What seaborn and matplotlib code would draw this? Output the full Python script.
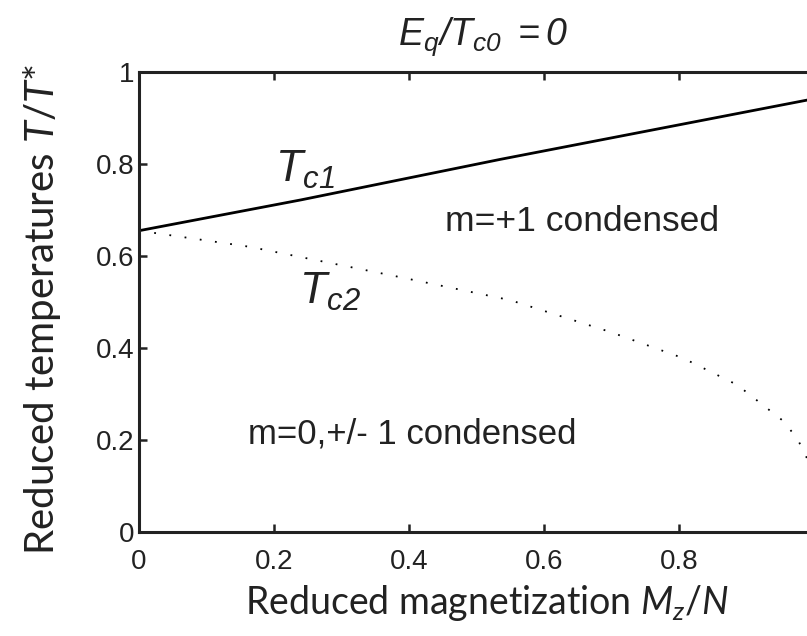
import numpy as np
import pandas as pd
import matplotlib
matplotlib.use("Agg")
import matplotlib.pyplot as plt
import seaborn as sns

# values
mz_tc1 = [0.0, 0.24, 0.535, 0.99, 1.0]
t_tc1 = [0.655, 0.722, 0.81, 0.939, 0.942]

mz_tc2 = [0.0, 0.164, 0.313, 0.387, 0.55, 0.698, 0.806, 0.886, 0.953, 0.975, 0.99, 1.0]
t_tc2 = [0.655, 0.62, 0.576, 0.554, 0.504, 0.435, 0.378, 0.32, 0.243, 0.204, 0.159, 0.13]

x_ticks = [0, 0.2, 0.4, 0.6, 0.8, 1.0]
x_labels = ['0', '0.2', '0.4', '0.6', '0.8', '']   # "1" falls off the cropped edge
y_ticks = [0, 0.2, 0.4, 0.6, 0.8, 1.0]
y_labels = ['0', '0.2', '0.4', '0.6', '0.8', '1']

sns.set_style("ticks")
plt.rcParams['font.family'] = ['Liberation Sans', 'DejaVu Sans']
plt.rcParams['mathtext.fontset'] = 'custom'
plt.rcParams['mathtext.it'] = 'Lato:italic'
plt.rcParams['mathtext.rm'] = 'Lato'
plt.rcParams['mathtext.sf'] = 'Liberation Sans:italic'

fig = plt.figure(figsize=(8.07, 6.36), dpi=100)
# axes box runs a little past the right edge, as in the cropped original
ax = fig.add_axes([139 / 807, 104 / 636, 675 / 807, 460 / 636])

df1 = pd.DataFrame({'Mz': mz_tc1, 'T': t_tc1})
df2 = pd.DataFrame({'Mz': mz_tc2, 'T': t_tc2})
sns.lineplot(data=df1, x='Mz', y='T', ax=ax, color='black', linewidth=2, sort=False)
sns.lineplot(data=df2, x='Mz', y='T', ax=ax, color='black', linewidth=1.3,
             linestyle=(0, (1, 7.5)), sort=False)

ax.set_xlim(0, 1)
ax.set_ylim(0, 1)
ax.set_xticks(x_ticks)
ax.set_yticks(y_ticks)
ax.set_xticklabels(x_labels)
ax.set_yticklabels(y_labels)
ax.tick_params(direction='in', length=6, width=1.8, labelsize=20, colors='#222222',
               top=True, right=False, pad=3)
ax.tick_params(axis='x', pad=12)
for s in ax.spines.values():
    s.set_linewidth(2.2)
    s.set_color('#222222')

ax.set_xlabel(r'Reduced magnetization $M_z/N$', family='Lato', fontsize=27,
              color='#222222', labelpad=6, x=0.515)
ax.set_ylabel(r'Reduced temperatures $T/T$*', family='Lato', fontsize=29,
              color='#222222', labelpad=24, y=0.485)
ax.set_title(r'$\mathsf{E_q/T_{c0}\ {=}0}$', fontsize=27, color='#222222', pad=20, x=0.51)

ax.text(0.246, 0.787, r'$\mathsf{T_{c1}}$', fontsize=32, ha='center', va='center',
        color='#222222')
ax.text(0.283, 0.522, r'$\mathsf{T_{c2}}$', fontsize=32, ha='center', va='center',
        color='#222222')
ax.text(0.453, 0.675, 'm=+1 condensed', fontsize=25.5, va='center', color='#222222')
ax.text(0.161, 0.212, 'm=0,+/- 1 condensed', fontsize=25, va='center', color='#222222')

fig.savefig('out.png', dpi=100)
